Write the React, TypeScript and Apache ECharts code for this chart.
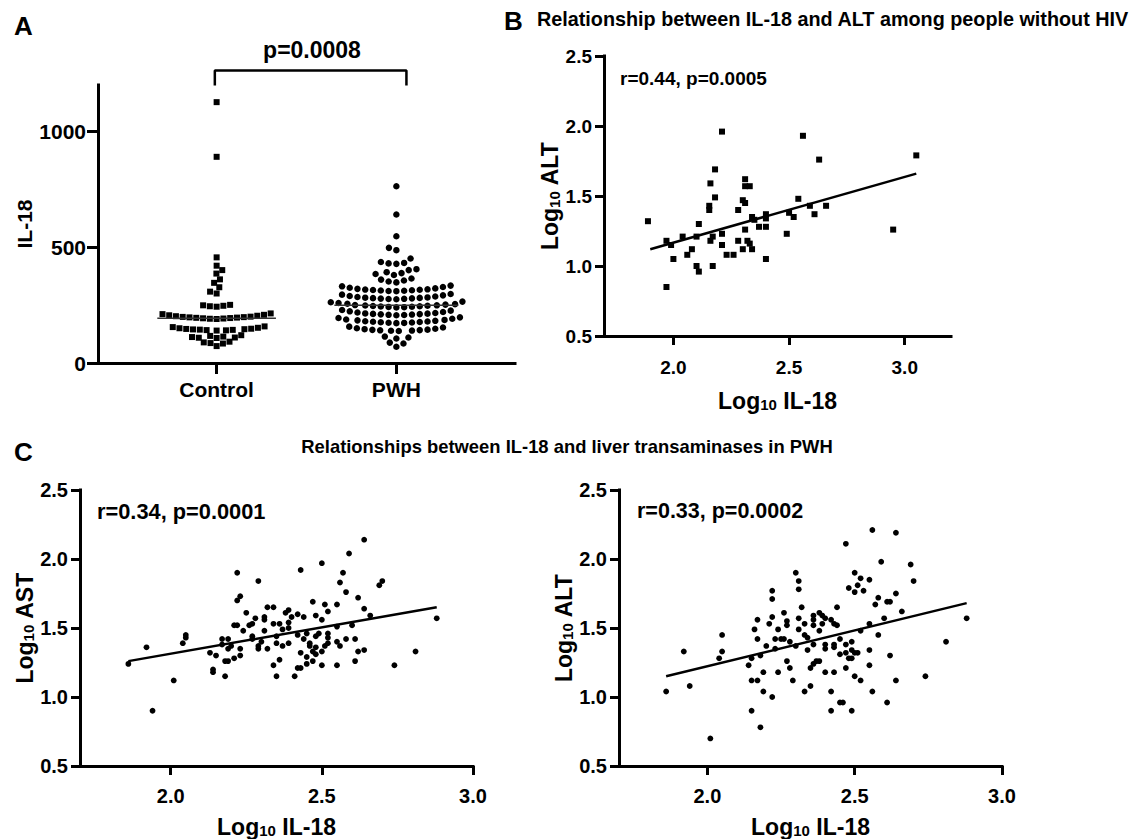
import React, { useEffect, useRef } from 'react';
import * as echarts from 'echarts';

// ---------------- data ----------------
const groupLabels = ['Control', 'PWH'];

// Panel A: IL-18 (pg/mL) per participant
const controlIL18 = [
  1126, 890, 456, 420, 401, 386, 361, 346, 327, 308, 300,
  243, 245, 247, 249, 251,
  190, 191, 192, 193, 194, 195, 196, 197, 198, 199, 200, 202, 204, 206, 208, 211, 214,
  140, 141, 142, 143, 144, 145, 146, 147, 148, 150, 152, 155, 158,
  108, 109, 110, 112, 114, 117, 120,
  84, 86, 89, 92,
  73,
];
const pwhIL18 = [
  763, 641, 547, 497, 487, 451, 436, 432, 430, 428, 405, 401,
  392, 388, 384, 380, 365, 360, 356, 352, 348,
  310, 311, 312, 313, 314, 315, 316, 317, 318, 320, 322, 325, 328, 331, 334,
  275, 276, 277, 278, 279, 280, 281, 282, 283, 285, 287, 289, 292, 295, 298,
  240, 241, 242, 243, 244, 245, 246, 247, 248, 249, 250, 252, 254, 256, 259, 262, 265,
  206, 207, 208, 209, 210, 211, 212, 213, 214, 216, 218, 220, 223, 226, 229,
  172, 173, 174, 175, 176, 177, 178, 179, 180, 182, 184, 186, 188, 191, 194, 197,
  138, 139, 140, 141, 142, 143, 144, 146, 148, 150, 153, 157,
  114, 110, 106, 88, 84, 70,
];
const il18Ticks = [0, 500, 1000];
const groupPValue = 'p=0.0008';
const bracketX = [0.99, 2.056];
const bracketY = [1198, 1263];

// Panel B: people without HIV, [log10 IL-18, log10 ALT]
const noHivPoints = [
  [2.21, 1.96], [2.56, 1.93], [2.63, 1.76], [2.18, 1.69], [2.16, 1.59], [2.31, 1.62], [2.31, 1.57], [2.33, 1.57],
  [2.18, 1.49], [2.155, 1.43], [2.155, 1.40], [2.30, 1.47], [2.31, 1.45], [2.28, 1.40], [2.54, 1.48], [2.34, 1.35],
  [2.35, 1.33], [2.40, 1.37], [2.40, 1.34], [2.37, 1.28], [2.40, 1.28], [2.50, 1.38], [2.52, 1.35], [2.59, 1.43],
  [2.61, 1.37], [2.66, 1.43], [2.49, 1.23], [2.11, 1.30], [2.04, 1.21], [1.97, 1.18], [1.99, 1.15], [2.10, 1.21],
  [2.00, 1.05], [2.08, 1.12], [2.06, 1.08], [2.10, 1.00], [2.11, 0.96], [1.97, 0.85], [2.16, 1.18], [2.17, 1.21],
  [2.17, 1.00], [2.21, 1.23], [2.21, 1.15], [2.23, 1.08], [2.26, 1.08], [2.28, 1.18], [2.31, 1.26], [2.32, 1.18],
  [2.33, 1.16], [2.30, 1.12], [2.34, 1.12], [2.40, 1.05], [1.89, 1.32], [2.95, 1.26], [3.05, 1.79],
];
const noHivFit = [[1.90, 1.12], [3.05, 1.66]];
const noHivStat = 'r=0.44, p=0.0005';

// Panel C left: PWH, [log10 IL-18, log10 AST]
const pwhAstPoints = [
  [2.64, 2.14], [2.59, 2.04], [2.50, 1.97], [2.22, 1.90], [2.43, 1.92], [2.57, 1.90], [2.29, 1.84], [2.56, 1.83],
  [2.70, 1.84], [2.69, 1.81], [2.58, 1.76], [2.23, 1.73], [2.22, 1.70], [2.62, 1.72], [2.47, 1.69], [2.51, 1.67],
  [2.55, 1.67], [2.32, 1.65], [2.34, 1.65], [2.64, 1.64], [2.39, 1.63], [2.25, 1.61], [2.38, 1.61], [2.52, 1.62],
  [2.48, 1.59], [2.42, 1.60], [2.44, 1.58], [2.66, 1.59], [2.28, 1.57], [2.31, 1.58], [2.40, 1.58], [2.21, 1.52],
  [2.22, 1.52], [2.27, 1.53], [2.26, 1.52], [2.31, 1.56], [2.36, 1.53], [2.34, 1.53], [2.39, 1.54], [2.50, 1.56],
  [2.39, 1.50], [2.24, 1.48], [2.31, 1.48], [2.37, 1.49], [2.35, 1.44], [2.42, 1.45], [2.45, 1.46], [2.49, 1.46],
  [2.52, 1.46], [2.55, 1.51], [2.60, 1.52], [2.05, 1.45], [2.05, 1.43], [2.04, 1.39], [1.92, 1.36], [2.17, 1.42],
  [2.19, 1.42], [2.17, 1.38], [2.20, 1.37], [2.19, 1.35], [2.27, 1.44], [2.27, 1.42], [2.29, 1.37], [2.30, 1.40],
  [2.29, 1.35], [2.32, 1.35], [2.35, 1.39], [2.37, 1.37], [2.39, 1.39], [2.44, 1.42], [2.46, 1.39], [2.46, 1.37],
  [2.48, 1.44], [2.52, 1.39], [2.52, 1.43], [2.55, 1.40], [2.56, 1.37], [2.58, 1.42], [2.61, 1.42], [2.48, 1.36],
  [2.47, 1.33], [2.50, 1.33], [2.51, 1.37], [2.13, 1.32], [2.15, 1.30], [2.18, 1.26], [2.19, 1.26], [2.21, 1.28],
  [2.23, 1.30], [2.23, 1.35], [2.43, 1.32], [2.45, 1.29], [2.47, 1.26], [2.48, 1.31], [2.62, 1.33], [2.64, 1.34],
  [2.81, 1.33], [1.86, 1.24], [2.14, 1.20], [2.14, 1.18], [2.18, 1.15], [2.34, 1.23], [2.36, 1.27], [2.42, 1.21],
  [2.43, 1.21], [2.45, 1.24], [2.50, 1.23], [2.55, 1.23], [2.61, 1.26], [2.74, 1.23], [2.88, 1.57], [2.01, 1.12],
  [2.35, 1.15], [2.41, 1.15], [1.94, 0.90],
];
const pwhAstFit = [[1.86, 1.26], [2.88, 1.65]];
const pwhAstStat = 'r=0.34, p=0.0001';

// Panel C right: PWH, [log10 IL-18, log10 ALT]
const pwhAltPoints = [
  [2.56, 2.21], [2.64, 2.19], [2.47, 2.11], [2.59, 1.98], [2.69, 1.96], [2.30, 1.90], [2.50, 1.90], [2.31, 1.84],
  [2.52, 1.86], [2.55, 1.85], [2.70, 1.84], [2.51, 1.81], [2.48, 1.79], [2.53, 1.77], [2.50, 1.76], [2.31, 1.78],
  [2.22, 1.77], [2.22, 1.71], [2.64, 1.75], [2.58, 1.72], [2.57, 1.67], [2.61, 1.69], [2.62, 1.69], [2.44, 1.65],
  [2.32, 1.65], [2.26, 1.61], [2.22, 1.58], [2.17, 1.56], [2.21, 1.53], [2.27, 1.55], [2.27, 1.52], [2.31, 1.57],
  [2.33, 1.53], [2.36, 1.59], [2.38, 1.61], [2.39, 1.59], [2.40, 1.57], [2.36, 1.56], [2.36, 1.52], [2.39, 1.53],
  [2.42, 1.56], [2.43, 1.53], [2.44, 1.52], [2.66, 1.62], [2.60, 1.57], [2.55, 1.53], [2.16, 1.49], [2.24, 1.49],
  [2.31, 1.49], [2.05, 1.45], [2.17, 1.42], [2.23, 1.42], [2.25, 1.42], [2.26, 1.42], [2.28, 1.40], [2.33, 1.45],
  [2.34, 1.43], [2.36, 1.38], [2.38, 1.48], [2.45, 1.42], [2.52, 1.48], [2.58, 1.45], [2.20, 1.37], [2.23, 1.35],
  [2.30, 1.37], [2.34, 1.34], [2.40, 1.38], [2.40, 1.35], [2.43, 1.36], [2.43, 1.38], [2.47, 1.38], [2.49, 1.40],
  [2.49, 1.34], [2.50, 1.32], [2.51, 1.32], [2.47, 1.32], [2.45, 1.31], [2.48, 1.28], [2.49, 1.28], [2.55, 1.34],
  [2.62, 1.30], [1.92, 1.33], [2.05, 1.33], [2.04, 1.28], [2.18, 1.30], [2.15, 1.28], [2.14, 1.23], [2.27, 1.26],
  [2.28, 1.21], [2.35, 1.21], [2.36, 1.24], [2.37, 1.26], [2.38, 1.26], [2.40, 1.18], [2.43, 1.18], [2.47, 1.21],
  [2.55, 1.23], [2.19, 1.18], [2.24, 1.18], [2.50, 1.15], [2.52, 1.12], [2.15, 1.12], [2.17, 1.12], [2.29, 1.12],
  [1.94, 1.08], [2.64, 1.12], [2.74, 1.15], [2.81, 1.40], [2.88, 1.57], [1.86, 1.04], [2.19, 1.04], [2.22, 1.00],
  [2.33, 1.04], [2.35, 1.08], [2.42, 1.04], [2.56, 1.04], [2.15, 0.90], [2.42, 0.90], [2.45, 0.96], [2.46, 0.96],
  [2.49, 0.90], [2.61, 0.96], [2.18, 0.78], [2.01, 0.70],
];
const pwhAltFit = [[1.86, 1.15], [2.88, 1.68]];
const pwhAltStat = 'r=0.33, p=0.0002';

const logTicks = [2, 2.5, 3];

// ---------------- layout / style ----------------
const W = 1135;
const H = 839;
const FONT = '"Liberation Sans", Arial, Helvetica, sans-serif';
const INK = '#000000';

const GA = { left: 98, top: 85, width: 417, height: 278 };
const GB = { left: 604, top: 56, width: 347, height: 280 };
const GCL = { left: 80, top: 490, width: 393, height: 280 };
const GCR = { left: 619, top: 490, width: 383, height: 280 };

const A_XMIN = 0.34;
const A_XMAX = 2.66;
const A_YMAX = 1200;

function median(vals: number[]): number {
  const s = [...vals].sort((a, b) => a - b);
  const m = Math.floor(s.length / 2);
  return s.length % 2 ? s[m] : (s[m - 1] + s[m]) / 2;
}

// simple beeswarm: place points (ascending) at smallest horizontal offset without overlap
function swarm(values: number[], center: number, d: number): number[][] {
  const pxPerX = GA.width / (A_XMAX - A_XMIN);
  const pxPerY = GA.height / A_YMAX;
  const sorted = [...values].sort((a, b) => a - b);
  const placed: { x: number; y: number }[] = [];
  const out: number[][] = [];
  let preferRight = true;
  for (const v of sorted) {
    const y = v * pxPerY;
    const blocks: [number, number][] = [];
    for (const p of placed) {
      const dy = Math.abs(p.y - y);
      if (dy < d) {
        const w = Math.sqrt(d * d - dy * dy);
        blocks.push([p.x - w, p.x + w]);
      }
    }
    const cands = [0];
    for (const [a, b] of blocks) cands.push(a, b);
    const ok = (c: number) => blocks.every(([a, b]) => c <= a + 1e-6 || c >= b - 1e-6);
    const valid = cands.filter(ok);
    valid.sort((a, b) => {
      const da = Math.abs(a) - Math.abs(b);
      if (Math.abs(da) > 0.05) return da;
      return preferRight ? b - a : a - b;
    });
    const x = valid[0];
    if (x > 0.05) preferRight = false;
    else if (x < -0.05) preferRight = true;
    placed.push({ x, y });
    out.push([center + x / pxPerX, v]);
  }
  return out;
}

const axisLineStyle = { show: true, onZero: false, lineStyle: { color: INK, width: 3, cap: 'square' } };
const tickStyle = { show: true, inside: false, length: 9, lineStyle: { color: INK, width: 3 } };
const tickLabel = { color: INK, fontFamily: FONT, fontWeight: 'bold' as const, fontSize: 19 };

const subRich = {
  a: { fontSize: 23, fontWeight: 'bold', fontFamily: FONT, color: INK, lineHeight: 30, verticalAlign: 'bottom' },
  s: { fontSize: 15, fontWeight: 'bold', fontFamily: FONT, color: INK, lineHeight: 15, verticalAlign: 'bottom' },
};

function logXAxis(gridIndex: number, max: number, fontSize: number, margin: number, gap: number) {
  return {
    gridIndex,
    type: 'value',
    min: 1.7,
    max,
    axisLine: axisLineStyle,
    axisTick: { ...tickStyle, customValues: logTicks },
    axisLabel: { ...tickLabel, fontSize, margin, customValues: logTicks, formatter: (v: number) => v.toFixed(1) },
    splitLine: { show: false },
    name: '{a|Log}{s|10}{a| IL-18}',
    nameLocation: 'middle',
    nameGap: gap,
    nameTextStyle: { rich: subRich },
  };
}

function logYAxis(gridIndex: number, label: string, gap: number, fontSize: number) {
  return {
    gridIndex,
    type: 'value',
    min: 0.5,
    max: 2.5,
    interval: 0.5,
    axisLine: axisLineStyle,
    axisTick: tickStyle,
    axisLabel: { ...tickLabel, fontSize, margin: 12, formatter: (v: number) => v.toFixed(1) },
    splitLine: { show: false },
    name: `{a|Log}{s|10}{a| ${label}}`,
    nameLocation: 'middle',
    nameGap: gap,
    nameTextStyle: { rich: subRich },
  };
}

function fitSeries(idx: number, data: number[][]) {
  return {
    type: 'line',
    xAxisIndex: idx,
    yAxisIndex: idx,
    data,
    symbol: 'none',
    lineStyle: { color: INK, width: 2.5 },
    silent: true,
    z: 3,
  };
}

function scatterSeries(idx: number, data: number[][], symbol: string, size: number) {
  return {
    type: 'scatter',
    xAxisIndex: idx,
    yAxisIndex: idx,
    data,
    symbol,
    symbolSize: size,
    itemStyle: { color: INK, opacity: 1 },
    z: 2,
  };
}

function txt(x: number, y: number, text: string, size: number, align = 'left') {
  return {
    type: 'text',
    x,
    y,
    silent: true,
    style: {
      text,
      fill: INK,
      fontFamily: FONT,
      fontWeight: 'bold',
      fontSize: size,
      align,
      verticalAlign: 'middle',
    },
  };
}

export default function App() {
  const ref = useRef<HTMLDivElement>(null);

  useEffect(() => {
    if (!ref.current) return;
    document.body.style.margin = '0';
    const chart = echarts.init(ref.current, undefined, { renderer: 'svg' });

    const ctrlPts = swarm(controlIL18, 1, 6.8);
    const pwhPts = swarm(pwhIL18, 2, 7.8);
    const ctrlMed = median(controlIL18);
    const pwhMed = median(pwhIL18);

    const option = {
      animation: false,
      backgroundColor: '#ffffff',
      textStyle: { fontFamily: FONT },
      grid: [GA, GB, GCL, GCR].map((g) => ({ ...g, containLabel: false })),
      xAxis: [
        {
          gridIndex: 0,
          type: 'value',
          min: A_XMIN,
          max: A_XMAX,
          axisLine: axisLineStyle,
          axisTick: { ...tickStyle, length: 11, customValues: [1, 2] },
          axisLabel: {
            ...tickLabel,
            fontSize: 21,
            margin: 16,
            customValues: [1, 2],
            formatter: (v: number) => groupLabels[Math.round(v) - 1] ?? '',
          },
          splitLine: { show: false },
        },
        logXAxis(1, 3.2, 19, 22, 46),
        logXAxis(2, 3.0, 20, 20, 42),
        logXAxis(3, 3.0, 20, 20, 42),
      ],
      yAxis: [
        {
          gridIndex: 0,
          type: 'value',
          min: 0,
          max: A_YMAX,
          interval: 500,
          axisLine: axisLineStyle,
          axisTick: { ...tickStyle, length: 11, customValues: il18Ticks },
          axisLabel: {
            ...tickLabel,
            fontSize: 21,
            margin: 12,
            customValues: il18Ticks,
            formatter: (v: number) => String(v),
          },
          splitLine: { show: false },
          name: 'IL-18',
          nameLocation: 'middle',
          nameGap: 62,
          nameTextStyle: { color: INK, fontFamily: FONT, fontWeight: 'bold', fontSize: 21 },
        },
        logYAxis(1, 'ALT', 35, 19),
        logYAxis(2, 'AST', 37, 20),
        logYAxis(3, 'ALT', 32, 20),
      ],
      series: [
        scatterSeries(0, ctrlPts, 'rect', 6),
        scatterSeries(0, pwhPts, 'circle', 6.5),
        {
          type: 'line', xAxisIndex: 0, yAxisIndex: 0, symbol: 'none', silent: true,
          data: [[0.67, ctrlMed], [1.33, ctrlMed]],
          lineStyle: { color: '#333', width: 1.5 }, z: 4,
        },
        {
          type: 'line', xAxisIndex: 0, yAxisIndex: 0, symbol: 'none', silent: true,
          data: [[1.655, pwhMed], [2.345, pwhMed]],
          lineStyle: { color: '#333', width: 1.5 }, z: 4,
        },
        {
          type: 'line', xAxisIndex: 0, yAxisIndex: 0, symbol: 'none', silent: true, clip: false,
          data: [[bracketX[0], bracketY[0]], [bracketX[0], bracketY[1]], [bracketX[1], bracketY[1]], [bracketX[1], bracketY[0]]],
          lineStyle: { color: INK, width: 2.5 },
        },
        scatterSeries(1, noHivPoints, 'rect', 6),
        fitSeries(1, noHivFit),
        scatterSeries(2, pwhAstPoints, 'circle', 5.8),
        fitSeries(2, pwhAstFit),
        scatterSeries(3, pwhAltPoints, 'circle', 5.8),
        fitSeries(3, pwhAltFit),
      ],
      graphic: [
        txt(14, 26, 'A', 26),
        txt(312, 50, groupPValue, 23, 'center'),
        txt(504, 21, 'B', 26),
        txt(537, 19, 'Relationship between IL-18 and ALT among people without HIV', 19.8),
        txt(620, 78, noHivStat, 19),
        txt(14, 452, 'C', 26),
        txt(567, 446, 'Relationships between IL-18 and liver transaminases in PWH', 18.4, 'center'),
        txt(97, 511, pwhAstStat, 21.8),
        txt(637, 511, pwhAltStat, 21.5),
      ],
    };

    chart.setOption(option as any);
    return () => chart.dispose();
  }, []);

  return (
    <div
      ref={ref}
      style={{ position: 'fixed', left: 0, top: 0, width: W, height: H, background: '#fff' }}
    />
  );
}
